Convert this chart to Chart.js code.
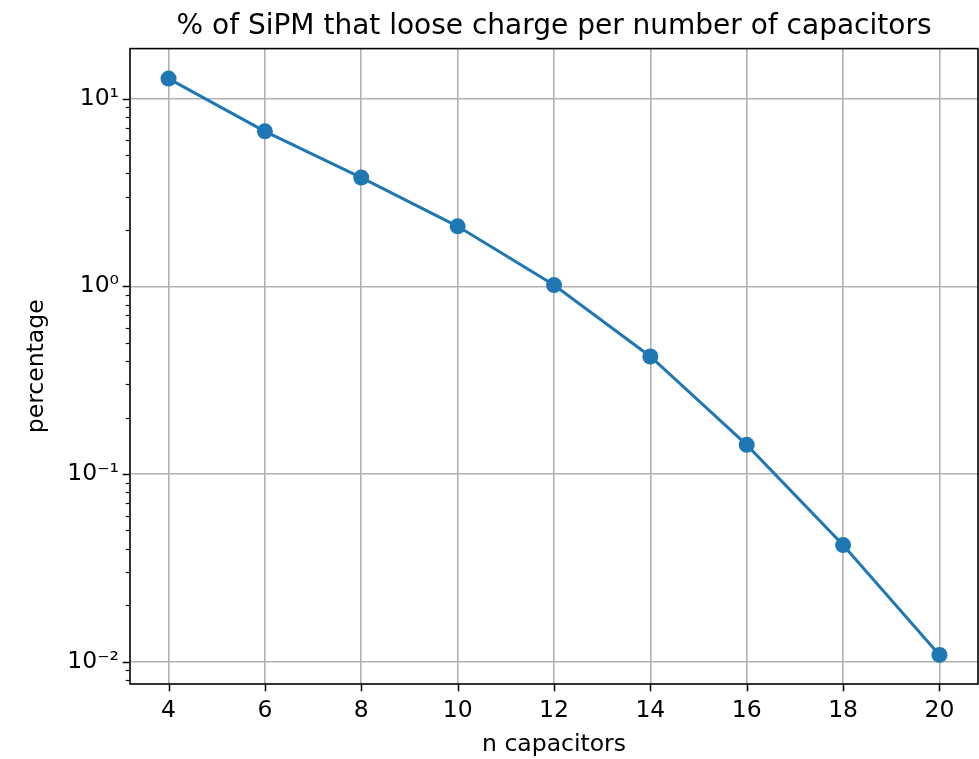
<!DOCTYPE html>
<html>
<head>
<meta charset="utf-8">
<script src="https://cdn.jsdelivr.net/npm/chart.js@4.4.1/dist/chart.umd.min.js"></script>
<style>
  html, body { margin: 0; padding: 0; background: #fff; }
  #wrap { width: 979px; height: 759px; }
</style>
</head>
<body>
<div id="wrap"><canvas id="chart" width="979" height="759"></canvas></div>
<script>
const nCaps = [4, 6, 8, 10, 12, 14, 16, 18, 20];
const percentage = [12.8, 6.70, 3.80, 2.09, 1.016, 0.423, 0.143, 0.0418, 0.01086];
const xTicks = [4, 6, 8, 10, 12, 14, 16, 18, 20];
const yDecades = [0.01, 0.1, 1, 10];
const yDecadeLabels = ['10⁻²', '10⁻¹', '10⁰', '10¹'];

const X_MIN = 3.2, X_MAX = 20.8;
const Y_MIN = 0.0076, Y_MAX = 18.5;

const FONT = "'DejaVu Sans', sans-serif";
const BLUE = '#1f77b4';

// all 1..9 x 10^k values inside the range (minor + major ticks)
const yTickValues = [];
[0.001, 0.01, 0.1, 1, 10].forEach(d => {
    for (let m = 1; m <= 9; m++) {
        const v = +(m * d).toPrecision(3);
        if (v >= Y_MIN && v <= Y_MAX) yTickValues.push(v);
    }
});

function isMajor(v) {
    const l = Math.log10(v);
    return Math.abs(l - Math.round(l)) < 1e-9;
}

// center the title over the plot area (matplotlib does that), not the canvas
const titleOverPlot = {
    id: 'titleOverPlot',
    afterLayout(chart) {
        const t = chart.titleBlock;
        if (!t) return;
        t.left = chart.chartArea.left;
        t.right = chart.chartArea.right;
        t.width = t.right - t.left;
    }
};

// frame + outward tick marks like matplotlib
const frameAndTicks = {
    id: 'frameAndTicks',
    afterDraw(chart) {
        const { ctx, chartArea: a, scales } = chart;
        ctx.save();
        ctx.strokeStyle = '#000';
        ctx.lineCap = 'butt';

        ctx.lineWidth = 1.5;
        xTicks.forEach(v => {
            const px = Math.round(scales.x.getPixelForValue(v)) + 0.5;
            ctx.beginPath();
            ctx.moveTo(px, a.bottom);
            ctx.lineTo(px, a.bottom + 7.3);
            ctx.stroke();
        });
        yTickValues.forEach(v => {
            const major = isMajor(v);
            const py = Math.round(scales.y.getPixelForValue(v)) + 0.5;
            ctx.lineWidth = major ? 1.5 : 1.2;
            ctx.beginPath();
            ctx.moveTo(a.left, py);
            ctx.lineTo(a.left - (major ? 7.3 : 4.2), py);
            ctx.stroke();
        });

        ctx.lineWidth = 1.6;
        ctx.strokeRect(a.left, a.top, a.right - a.left, a.bottom - a.top);
        ctx.restore();
    }
};

new Chart(document.getElementById('chart'), {
    type: 'line',
    data: {
        datasets: [{
            data: nCaps.map((n, i) => ({ x: n, y: percentage[i] })),
            borderColor: BLUE,
            backgroundColor: BLUE,
            borderWidth: 3,
            pointRadius: 8,
            pointHoverRadius: 8,
            pointBorderWidth: 0,
            tension: 0,
            fill: false
        }]
    },
    options: {
        responsive: false,
        animation: false,
        events: [],
        layout: { autoPadding: false, padding: { left: 0, right: 1, top: 0, bottom: 0 } },
        plugins: {
            legend: { display: false },
            tooltip: { enabled: false },
            title: {
                display: true,
                text: '% of SiPM that loose charge per number of capacitors',
                color: '#000',
                font: { family: FONT, size: 28, weight: 'normal' },
                padding: { top: 10, bottom: 5 }
            }
        },
        scales: {
            x: {
                type: 'linear',
                min: X_MIN,
                max: X_MAX,
                afterBuildTicks: scale => { scale.ticks = xTicks.map(v => ({ value: v })); },
                afterFit: scale => {
                    scale.height = 75;
                    scale.paddingLeft = 0;
                    scale.paddingRight = 0;
                },
                grid: { color: '#b0b0b0', lineWidth: 1.6, drawTicks: false },
                border: { display: false },
                ticks: {
                    color: '#000',
                    font: { family: FONT, size: 23.5 },
                    padding: 13,
                    autoSkip: false,
                    maxRotation: 0
                },
                title: {
                    display: true,
                    text: 'n capacitors',
                    color: '#000',
                    font: { family: FONT, size: 23.5 },
                    padding: { top: 0, bottom: 0 }
                }
            },
            y: {
                type: 'logarithmic',
                min: Y_MIN,
                max: Y_MAX,
                afterBuildTicks: scale => { scale.ticks = yTickValues.map(v => ({ value: v })); },
                afterFit: scale => {
                    scale.width = 130;
                    scale.paddingTop = 0;
                    scale.paddingBottom = 0;
                },
                grid: {
                    color: c => (c.tick && isMajor(c.tick.value)) ? '#b0b0b0' : 'rgba(0,0,0,0)',
                    lineWidth: 1.6,
                    drawTicks: false
                },
                border: { display: false },
                ticks: {
                    color: '#000',
                    font: { family: FONT, size: 23.5 },
                    padding: 11,
                    autoSkip: false,
                    callback: v => {
                        const i = yDecades.findIndex(d => Math.abs(d - v) / d < 1e-6);
                        return i >= 0 ? yDecadeLabels[i] : '';
                    }
                },
                title: {
                    display: true,
                    text: 'percentage',
                    color: '#000',
                    font: { family: FONT, size: 23.5 },
                    padding: { top: 23, bottom: 0 }
                }
            }
        }
    },
    plugins: [titleOverPlot, frameAndTicks]
});
</script>
</body>
</html>
